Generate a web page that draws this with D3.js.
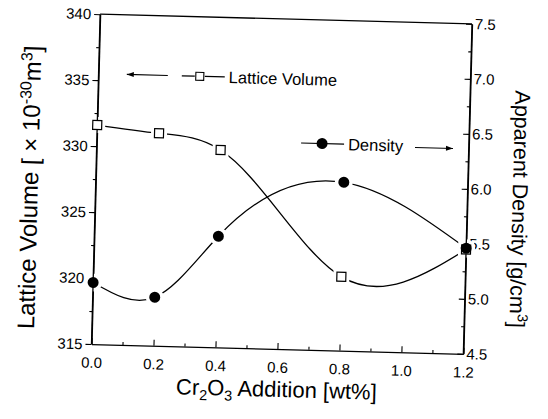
<!DOCTYPE html>
<html>
<head>
<meta charset="utf-8">
<script src="https://cdn.jsdelivr.net/npm/d3@7"></script>
<style>
  body { margin: 0; background: #fff; }
  text { font-family: "Liberation Sans", Arial, sans-serif; fill: #000; }
</style>
</head>
<body>
<div id="chart"></div>
<script>
// data
var additions = [0.0, 0.2, 0.4, 0.8, 1.2];
var latticeVolume = [331.6, 331.1, 329.95, 320.6, 322.9];
var apparentDensity = [5.06, 4.94, 5.51, 6.03, 5.46];

var xTicks = [0.0, 0.2, 0.4, 0.6, 0.8, 1.0, 1.2];
var xMinor = [0.1, 0.3, 0.5, 0.7, 0.9, 1.1];
var leftTicks = [315, 320, 325, 330, 335, 340];
var leftMinor = [317.5, 322.5, 327.5, 332.5, 337.5];
var rightTicks = [4.5, 5.0, 5.5, 6.0, 6.5, 7.0, 7.5];
var rightMinor = [4.75, 5.25, 5.75, 6.25, 6.75, 7.25];

var W = 548, H = 419;
var plotL = 95.75, plotR = 467.75, plotT = 19, plotB = 349;
var cx = (plotL + plotR) / 2, cy = (plotT + plotB) / 2;

var svg = d3.select("#chart").append("svg")
    .attr("width", W).attr("height", H);

// the scan is slightly tilted, so the whole figure is turned a little
var g = svg.append("g")
    .attr("transform", "rotate(1.5," + cx + "," + cy + ")");

var x = d3.scaleLinear().domain([0, 1.2]).range([plotL, plotR]);
var yL = d3.scaleLinear().domain([315, 340]).range([plotB, plotT]);
var yR = d3.scaleLinear().domain([4.5, 7.5]).range([plotB, plotT]);

var fmt1 = d3.format(".1f");

// natural spline in x (like Origin's spline), drawn as bezier pieces
function SplineX(context) { this._context = context; }
SplineX.prototype = {
  areaStart: function() {}, areaEnd: function() {},
  lineStart: function() { this._x = []; this._y = []; },
  point: function(px, py) { this._x.push(+px); this._y.push(+py); },
  lineEnd: function() {
    var X = this._x, Y = this._y, n = X.length - 1, c = this._context;
    if (n < 1) return;
    var h = [], i;
    for (i = 0; i < n; i++) h.push(X[i + 1] - X[i]);
    // tridiagonal solve for second derivatives, M0 = Mn = 0
    var M = new Array(n + 1).fill(0);
    if (n > 1) {
      var a = [], b = [], cc = [], r = [];
      for (i = 1; i < n; i++) {
        a.push(h[i - 1]); b.push(2 * (h[i - 1] + h[i])); cc.push(h[i]);
        r.push(6 * ((Y[i + 1] - Y[i]) / h[i] - (Y[i] - Y[i - 1]) / h[i - 1]));
      }
      var m = b.length;
      for (i = 1; i < m; i++) {
        var w = a[i] / b[i - 1];
        b[i] -= w * cc[i - 1];
        r[i] -= w * r[i - 1];
      }
      var sol = new Array(m);
      sol[m - 1] = r[m - 1] / b[m - 1];
      for (i = m - 2; i >= 0; i--) sol[i] = (r[i] - cc[i] * sol[i + 1]) / b[i];
      for (i = 1; i < n; i++) M[i] = sol[i - 1];
    }
    var d = [];
    for (i = 0; i < n; i++) d.push((Y[i + 1] - Y[i]) / h[i] - h[i] * (2 * M[i] + M[i + 1]) / 6);
    d.push((Y[n] - Y[n - 1]) / h[n - 1] + h[n - 1] * (M[n - 1] + 2 * M[n]) / 6);
    c.moveTo(X[0], Y[0]);
    for (i = 0; i < n; i++) {
      c.bezierCurveTo(X[i] + h[i] / 3, Y[i] + d[i] * h[i] / 3,
                      X[i + 1] - h[i] / 3, Y[i + 1] - d[i + 1] * h[i] / 3,
                      X[i + 1], Y[i + 1]);
    }
  }
};
function curveSplineX(context) { return new SplineX(context); }

function styleAxis(sel) {
  sel.selectAll("path").attr("stroke", "#000").attr("stroke-width", 1.3);
  sel.selectAll("line").attr("stroke", "#000").attr("stroke-width", 1.1);
  sel.selectAll("text").style("font-size", "15px").attr("fill", "#000");
}

// left axis
var ax = g.append("g").attr("transform", "translate(" + plotL + ",0)")
   .call(d3.axisLeft(yL).tickValues(leftTicks).tickSize(6).tickPadding(3).tickSizeOuter(0));
styleAxis(ax);
var axm = g.append("g").attr("transform", "translate(" + plotL + ",0)")
   .call(d3.axisLeft(yL).tickValues(leftMinor).tickSize(3).tickFormat(""));
axm.select(".domain").remove();
styleAxis(axm);

// right axis (ticks point inward)
var ar = g.append("g").attr("transform", "translate(" + plotR + ",0)")
   .call(d3.axisRight(yR).tickValues(rightTicks).tickSize(-6).tickPadding(3).tickSizeOuter(0).tickFormat(fmt1));
styleAxis(ar);
var arm = g.append("g").attr("transform", "translate(" + plotR + ",0)")
   .call(d3.axisRight(yR).tickValues(rightMinor).tickSize(-3).tickFormat(""));
arm.select(".domain").remove();
styleAxis(arm);

// bottom axis (ticks point up)
var ab = g.append("g").attr("transform", "translate(0," + plotB + ")")
   .call(d3.axisBottom(x).tickValues(xTicks).tickSize(-6).tickPadding(13).tickSizeOuter(0).tickFormat(fmt1));
styleAxis(ab);
var abm = g.append("g").attr("transform", "translate(0," + plotB + ")")
   .call(d3.axisBottom(x).tickValues(xMinor).tickSize(-3).tickFormat(""));
abm.select(".domain").remove();
styleAxis(abm);

// top frame line
g.append("line")
  .attr("x1", plotL).attr("x2", plotR).attr("y1", plotT).attr("y2", plotT)
  .attr("stroke", "#000").attr("stroke-width", 1.3);

// curves
var latticePts = additions.map(function(a, i) { return [x(a), yL(latticeVolume[i])]; });
var densityPts = additions.map(function(a, i) { return [x(a), yR(apparentDensity[i])]; });
var line = d3.line().curve(curveSplineX);

g.append("path").attr("d", line(latticePts))
  .attr("fill", "none").attr("stroke", "#000").attr("stroke-width", 1.3);
g.append("path").attr("d", line(densityPts))
  .attr("fill", "none").attr("stroke", "#000").attr("stroke-width", 1.3);

// white halos make the small gaps around the symbols
g.selectAll(".haloSq").data(latticePts).enter().append("rect")
  .attr("x", function(d) { return d[0] - 8; }).attr("y", function(d) { return d[1] - 8; })
  .attr("width", 16).attr("height", 16).attr("fill", "#fff");
g.selectAll(".haloC").data(densityPts).enter().append("circle")
  .attr("cx", function(d) { return d[0]; }).attr("cy", function(d) { return d[1]; })
  .attr("r", 9).attr("fill", "#fff");

// redraw axis lines over the halos at the edges
g.append("line").attr("x1", plotL).attr("x2", plotL).attr("y1", plotT).attr("y2", plotB)
  .attr("stroke", "#000").attr("stroke-width", 1.3);
g.append("line").attr("x1", plotR).attr("x2", plotR).attr("y1", plotT).attr("y2", plotB)
  .attr("stroke", "#000").attr("stroke-width", 1.3);

g.selectAll(".sq").data(latticePts).enter().append("rect")
  .attr("x", function(d) { return d[0] - 4.5; }).attr("y", function(d) { return d[1] - 4.5; })
  .attr("width", 9).attr("height", 9)
  .attr("fill", "#fff").attr("stroke", "#000").attr("stroke-width", 1.2);
g.selectAll(".dot").data(densityPts).enter().append("circle")
  .attr("cx", function(d) { return d[0]; }).attr("cy", function(d) { return d[1]; })
  .attr("r", 5.5).attr("fill", "#000");

// legends with arrows
function arrow(x1, x2, yy) {
  g.append("line").attr("x1", x1).attr("x2", x2).attr("y1", yy).attr("y2", yy)
    .attr("stroke", "#000").attr("stroke-width", 1.1);
  var dir = x2 > x1 ? 1 : -1;
  g.append("path")
    .attr("d", "M" + x2 + "," + yy + "L" + (x2 - dir * 7) + "," + (yy - 2.5) + "L" + (x2 - dir * 7) + "," + (yy + 2.5) + "Z")
    .attr("fill", "#000");
}

arrow(165, 124, 78.5);
g.append("line").attr("x1", 179).attr("x2", 192).attr("y1", 78.5).attr("y2", 78.5).attr("stroke", "#000").attr("stroke-width", 1.2);
g.append("line").attr("x1", 202).attr("x2", 222).attr("y1", 78.5).attr("y2", 78.5).attr("stroke", "#000").attr("stroke-width", 1.2);
g.append("rect").attr("x", 193).attr("y", 74.5).attr("width", 8).attr("height", 8)
  .attr("fill", "#fff").attr("stroke", "#000").attr("stroke-width", 1.1);
g.append("text").attr("x", 226).attr("y", 84.5).style("font-size", "16.5px").text("Lattice Volume");

g.append("line").attr("x1", 300).attr("x2", 343).attr("y1", 142.5).attr("y2", 142.5).attr("stroke", "#000").attr("stroke-width", 1.2);
g.append("circle").attr("cx", 321).attr("cy", 142.5).attr("r", 5.5).attr("fill", "#000");
g.append("text").attr("x", 347).attr("y", 148.5).style("font-size", "16.5px").text("Density");
arrow(414, 452, 144);

// axis titles
var lt = g.append("text")
  .attr("transform", "translate(38,194) rotate(-90)")
  .attr("text-anchor", "middle").style("font-size", "24px");
lt.append("tspan").text("Lattice Volume [ \u00d7 10");
lt.append("tspan").attr("dy", -9).style("font-size", "16px").text("-30");
lt.append("tspan").attr("dy", 9).text("m");
lt.append("tspan").attr("dy", -9).style("font-size", "16px").text("3");
lt.append("tspan").attr("dy", 9).text("]");

var rt = g.append("text")
  .attr("transform", "translate(513,203) rotate(90)")
  .attr("text-anchor", "middle").style("font-size", "21.5px");
rt.append("tspan").text("Apparent Density [g/cm");
rt.append("tspan").attr("dy", -8).style("font-size", "14.5px").text("3");
rt.append("tspan").attr("dy", 8).text("]");

var xt = g.append("text")
  .attr("x", cx).attr("y", 397)
  .attr("text-anchor", "middle").style("font-size", "22px");
xt.append("tspan").text("Cr");
xt.append("tspan").attr("dy", 5).style("font-size", "14.5px").text("2");
xt.append("tspan").attr("dy", -5).text("O");
xt.append("tspan").attr("dy", 5).style("font-size", "14.5px").text("3");
xt.append("tspan").attr("dy", -5).text(" Addition [wt%]");
</script>
</body>
</html>
